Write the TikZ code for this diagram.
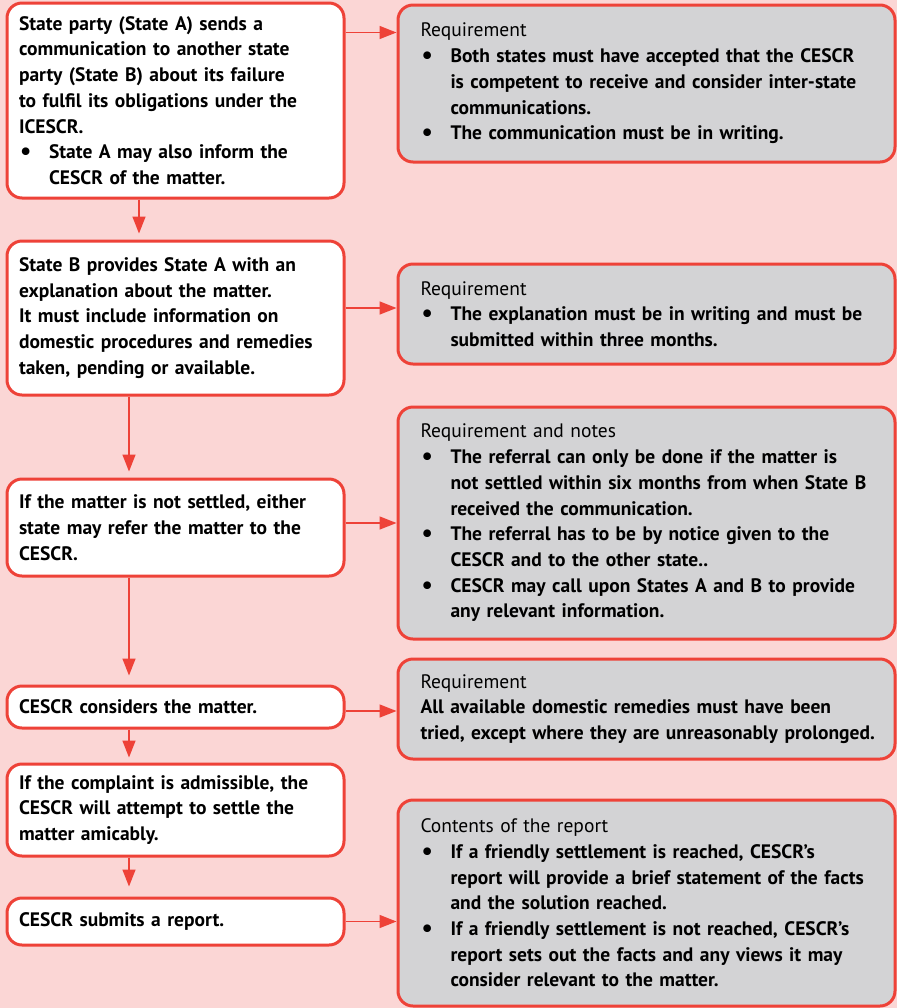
\documentclass[tikz,border=0pt]{standalone}
\usepackage{fontspec}
\setmainfont{PT Sans}
\usetikzlibrary{arrows.meta}
\definecolor{bgpink}{HTML}{FBD6D5}
\definecolor{boxred}{HTML}{EE4238}
\definecolor{notegray}{HTML}{D3D3D5}
\setlength{\parindent}{0pt}
\newcommand{\bul}{\par\hangindent=15pt\hangafter=1\noindent
  \makebox[15pt][l]{\hspace{0.5pt}\raisebox{-0.6pt}{\fontsize{12.5}{12}\selectfont\textbullet}}}
\newcommand{\ttl}[1]{{\mdseries #1}\par}

\begin{document}
\begin{tikzpicture}[x=0.5pt,y=-0.5pt,
  stage/.style={draw=boxred,fill=white,line width=1.5pt,rounded corners=7.5pt,
   text width=156.5pt,inner xsep=6pt,inner ysep=0pt,minimum width=168.5pt,align=left,
   font=\fontsize{9.75}{12.85}\selectfont\bfseries},
  note/.style={stage,fill=notegray,text width=234pt,inner xsep=7.25pt,minimum width=248.5pt,
   execute at begin node={\leftskip=4pt}},
  arr/.style={draw=boxred,line width=0.75pt,-{Triangle[length=8.5pt,width=6.5pt]}}]
  \fill[bgpink] (0,0) rectangle (897,1008);

  \node[stage,minimum height=97.5pt] (send) at (175.5,100.5)
   {State party (State A) sends a\\communication to another state\\party (State B) about its failure\\to fulfil its obligations under the\\ICESCR.
    \bul State A may also inform the\newline CESCR of the matter.\par};
  \node[stage,minimum height=77pt] (reply) at (175.5,318)
   {State B provides State A with an\\explanation about the matter.\\It must include information on\\domestic procedures and remedies\\taken, pending or available.};
  \node[stage,minimum height=48.5pt] (refer) at (175.5,527.5)
   {If the matter is not settled, either\\state may refer the matter to the\\CESCR.};
  \node[stage,minimum height=21pt] (consider) at (175.5,707)
   {CESCR considers the matter.};
  \node[stage,minimum height=46pt] (settle) at (175.5,810)
   {If the complaint is admissible, the\\CESCR will attempt to settle the\\matter amicably.};
  \node[stage,minimum height=23.5pt] (report) at (175.5,921.5)
   {CESCR submits a report.};

  \node[note,minimum height=78.5pt] (reqsend) at (646.5,83.5)
   {\ttl{Requirement}
    \bul Both states must have accepted that the CESCR\newline is competent to receive and consider inter-state\newline communications.
    \bul The communication must be in writing.\par\vspace{17.5pt}};
  \node[note,minimum height=50pt] (reqreply) at (646.5,314)
   {\ttl{Requirement}
    \bul The explanation must be in writing and must be\newline submitted within three months.\par};
  \node[note,minimum height=116pt] (reqrefer) at (646.5,523)
   {\ttl{Requirement and notes}
    \bul The referral can only be done if the matter is\newline not settled within six months from when State B\newline received the communication.
    \bul The referral has to be by notice given to the\newline CESCR and to the other state..
    \bul CESCR may call upon States A and B to provide\newline any relevant information.\par};
  \node[note,minimum height=50pt] (reqconsider) at (646.5,709)
   {\ttl{Requirement}
    All available domestic remedies must have been\\tried, except where they are unreasonably prolonged.};
  \node[note,minimum height=103pt] (contents) at (646.5,903)
   {\ttl{Contents of the report}
    \bul If a friendly settlement is reached, CESCR’s\newline report will provide a brief statement of the facts\newline and the solution reached.
    \bul If a friendly settlement is not reached, CESCR’s\newline report sets out the facts and any views it may\newline consider relevant to the matter.\par};

  \draw[arr,shorten >=3pt] ([xshift=-18.25pt]send.south) coordinate (d1) -- (d1 |- reply.north);
  \draw[arr,shorten >=3pt] ([xshift=-23.25pt]reply.south) coordinate (d2) -- (d2 |- refer.north);
  \draw[arr,shorten >=4.5pt] ([xshift=-23.25pt]refer.south) coordinate (d3) -- (d3 |- consider.north);
  \draw[arr,shorten >=2.5pt] ([xshift=-23.25pt]consider.south) coordinate (d4) -- (d4 |- settle.north);
  \draw[arr,shorten >=5pt] ([xshift=-23.25pt]settle.south) coordinate (d5) -- (d5 |- report.north);

  \draw[arr] ([yshift=-15.5pt]send.north east) coordinate (h1) -- (h1 -| reqsend.west);
  \draw[arr] ([yshift=5pt]reply.east) coordinate (h2) -- (h2 -| reqreply.west);
  \draw[arr] (reqrefer.west -| refer.east) -- (reqrefer.west);
  \draw[arr] ([yshift=-2pt]consider.east) coordinate (h4) -- (h4 -| reqconsider.west);
  \draw[arr] (report.east) -- (report.east -| contents.west);
\end{tikzpicture}
\end{document}
